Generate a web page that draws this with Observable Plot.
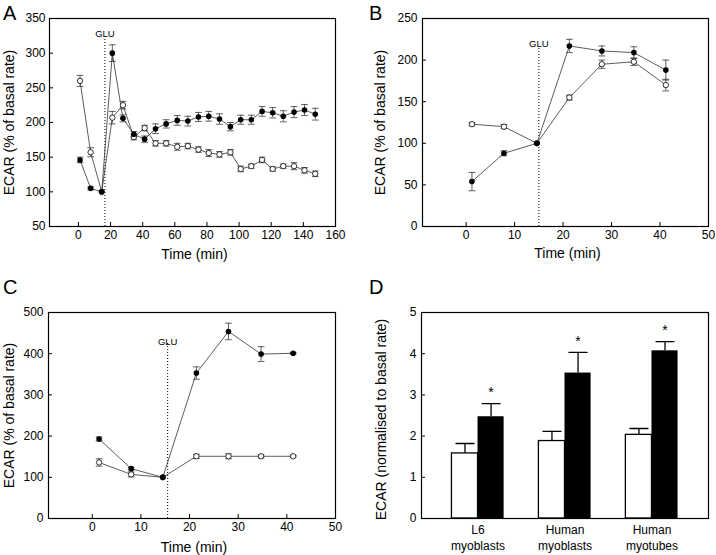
<!DOCTYPE html>
<html><head><meta charset="utf-8">
<script src="https://cdn.jsdelivr.net/npm/d3@7"></script>
<script src="https://cdn.jsdelivr.net/npm/@observablehq/plot@0.6"></script>
<style>
html,body{margin:0;padding:0;background:#fff;}
#root{position:relative;width:716px;height:555px;overflow:hidden;font-family:"Liberation Sans",Arial,Helvetica,sans-serif;background:#fff;}
.panel{position:absolute;}
#letters{position:absolute;left:0;top:0;pointer-events:none;}
</style></head><body><div id="root"></div>
<script>
// ---------- Panel A ----------
const timeA = [1.0, 7.6, 14.5, 21.1, 27.7, 34.5, 41.2, 48.0, 54.6, 61.5, 68.1, 74.7, 81.1, 87.8, 94.6, 101.0, 107.6, 114.3, 120.9, 127.5, 134.2, 140.7, 147.4];
const filledA = [146, 105, 100, 300, 206, 183, 176, 191, 198, 203, 202, 208, 209, 205, 194, 204, 204, 216, 214, 209, 215, 218, 212];
const filledAErr = [4, 2, 0, 12, 5, 4, 4.5, 7, 6, 7, 7, 6.5, 7, 7.5, 6, 6.5, 6.5, 7, 7.5, 8, 8, 8, 8.5];
const openA = [260, 157, 100, 207, 225, 179, 192, 170, 170, 165, 166, 161, 156, 154, 157, 133, 137, 146, 133, 137, 137, 131, 126];
const openAErr = [8, 6.5, 0, 9, 5.5, 4, 4, 4, 4, 5, 4, 4, 5, 4, 4, 4, 3, 4, 3, 3, 5, 4, 4];
const gluA = 16.5;
const xTicksA = [0, 20, 40, 60, 80, 100, 120, 140, 160];
const yTicksA = [50, 100, 150, 200, 250, 300, 350];

// ---------- Panel B ----------
const timeB = [1.2, 7.8, 14.6, 21.3, 28.0, 34.6, 41.2];
const filledB = [54, 88, 100, 217, 211, 209, 188];
const filledBErr = [11, 3, 0, 8, 6, 7, 12];
const openB = [123, 120, 100, 155, 195, 198, 170];
const openBErr = [2, 2.5, 0, 3, 5, 4.5, 7];
const gluB = 15;
const xTicksB = [0, 10, 20, 30, 40, 50];
const yTicksB = [0, 50, 100, 150, 200, 250];

// ---------- Panel C ----------
const timeC = [1.4, 8.0, 14.5, 21.4, 28.0, 34.7, 41.3];
const filledC = [193, 121, 100, 353, 454, 399, 401];
const filledCErr = [5, 3, 0, 15, 20, 18, 2];
const openC = [136, 107, 100, 151, 151, 151, 151];
const openCErr = [9, 6, 0, 5, 6, 4, 2];
const gluC = 15.5;
const xTicksC = [0, 10, 20, 30, 40, 50];
const yTicksC = [0, 100, 200, 300, 400, 500];

// ---------- Panel D ----------
const groupsD = ["L6 myoblasts", "Human myoblasts", "Human myotubes"];
const openD = [1.58, 1.88, 2.03];
const openDErr = [0.24, 0.235, 0.155];
const filledD = [2.47, 3.53, 4.07];
const filledDErr = [0.32, 0.50, 0.225];
const significanceD = ["*", "*", "*"];
const yTicksD = [0, 1, 2, 3, 4, 5];

const FONT = '"Liberation Sans", Arial, Helvetica, sans-serif';
const capShape = {draw(ctx, l) { ctx.moveTo(0, 0); ctx.lineTo(0, -l); }};

function rows(t, v, e) { return t.map((x, i) => ({t: x, v: v[i], e: e[i]})); }

function errMarks(data) {
  const d = data.filter(r => r.e > 0);
  const st = {stroke: "#3a3a3a", strokeWidth: 0.8};
  return [
    Plot.ruleX(d, {x: "t", y1: r => r.v - r.e, y2: r => r.v + r.e, ...st}),
    Plot.vector(d, {x: "t", y: r => r.v + r.e, length: 6, rotate: 90, anchor: "middle", shape: capShape, ...st}),
    Plot.vector(d, {x: "t", y: r => r.v - r.e, length: 6, rotate: 90, anchor: "middle", shape: capShape, ...st})
  ];
}

function axesMarks(xt, yt, yPad) {
  return [
    Plot.axisX({ticks: xt, tickSize: 0, tickPadding: 4, label: null, fontSize: 12, tickFormat: d => String(d)}),
    Plot.axisX({ticks: xt, tickSize: 4, dy: -4, fill: "none", label: null, stroke: "#000"}),
    Plot.axisY({ticks: yt, tickSize: 0, tickPadding: yPad, label: null, fontSize: 12, tickFormat: d => String(d)}),
    Plot.axisY({ticks: yt, tickSize: 4, dx: 4, fill: "none", label: null, stroke: "#000"})
  ];
}

function linePanel(c) {
  const f = rows(c.time, c.filled, c.filledErr);
  const o = rows(c.time, c.open, c.openErr);
  return Plot.plot({
    width: 358, height: c.height,
    marginLeft: c.ml, marginRight: c.mr, marginTop: c.mt, marginBottom: c.mb,
    style: {fontFamily: FONT, fontSize: "12px", background: "#fff", color: "#000"},
    x: {domain: c.xdom, label: null},
    y: {domain: c.ydom, label: null},
    marks: [
      Plot.ruleX([c.glu], {x: d => d, insetTop: c.gluInset, stroke: "#000", strokeWidth: 1, strokeDasharray: "1,2"}),
      Plot.text([c.glu], {x: d => d, frameAnchor: "top", dy: c.gluDy, text: () => "GLU", fontSize: 9.5, textAnchor: "middle"}),
      Plot.line(o, {x: "t", y: "v", stroke: "#333", strokeWidth: 0.8}),
      Plot.line(f, {x: "t", y: "v", stroke: "#333", strokeWidth: 0.8}),
      ...errMarks(o),
      ...errMarks(f),
      Plot.dot(o, {x: "t", y: "v", r: 2.7, fill: "#fff", stroke: "#000", strokeWidth: 0.8}),
      Plot.dot(f, {x: "t", y: "v", r: 2.8, fill: "#000"}),
      ...axesMarks(c.xticks, c.yticks, c.yPad),
      Plot.frame({stroke: "#000", strokeWidth: 1.2}),
      Plot.text(["ECAR (% of basal rate)"], {frameAnchor: "left", rotate: -90, dx: c.ylabDx, text: d => d, fontSize: 14, textAnchor: "middle", lineAnchor: "middle"}),
      Plot.text(["Time (min)"], {frameAnchor: "bottom", dy: c.xlabDy, dx: 2, text: d => d, fontSize: 14, textAnchor: "middle", lineAnchor: "middle"})
    ]
  });
}

function barPanel() {
  const ml = 63, mr = 8, W = 358;
  const pi = 0.4, po = 0.35;
  const step = (W - ml - mr) / (3 - pi + 2 * po);
  const half = step * (1 - pi) / 2;
  const data = groupsD.map((g, i) => ({g, o: openD[i], oe: openDErr[i], f: filledD[i], fe: filledDErr[i], s: significanceD[i]}));
  const st = {stroke: "#000", strokeWidth: 1.3};
  return Plot.plot({
    width: W, height: 280, marginLeft: ml, marginRight: mr, marginTop: 37, marginBottom: 37,
    style: {fontFamily: FONT, fontSize: "12px", background: "#fff", color: "#000"},
    x: {type: "band", domain: groupsD, paddingInner: pi, paddingOuter: po, round: false, label: null},
    y: {domain: [0, 5], label: null},
    marks: [
      Plot.ruleX(data, {x: "g", y1: "o", y2: d => d.o + d.oe, dx: -half / 2, ...st}),
      Plot.vector(data, {x: "g", y: d => d.o + d.oe, dx: -half / 2, length: 18, rotate: 90, anchor: "middle", shape: capShape, ...st}),
      Plot.ruleX(data, {x: "g", y1: "f", y2: d => d.f + d.fe, dx: half / 2, ...st}),
      Plot.vector(data, {x: "g", y: d => d.f + d.fe, dx: half / 2, length: 18, rotate: 90, anchor: "middle", shape: capShape, ...st}),
      Plot.barY(data, {x: "g", y: "o", fill: "#fff", stroke: "#000", strokeWidth: 1.3, insetRight: half}),
      Plot.barY(data, {x: "g", y: "f", fill: "#000", insetLeft: half}),
      Plot.text(data, {x: "g", y: d => d.f + d.fe, dx: half / 2, dy: -11, text: "s", fontSize: 14}),
      Plot.axisX({tickSize: 0, tickPadding: 4, label: null, fontSize: 12, lineHeight: 1.33, tickFormat: d => d.replace(" ", "\n")}),
      Plot.axisY({ticks: yTicksD, tickSize: 0, tickPadding: 5, label: null, fontSize: 12, tickFormat: d => String(d)}),
      Plot.axisY({ticks: yTicksD, tickSize: 4, dx: 4, fill: "none", label: null, stroke: "#000"}),
      Plot.frame({stroke: "#000", strokeWidth: 1.2}),
      Plot.text(["ECAR (normalised to basal rate)"], {frameAnchor: "left", rotate: -90, dx: -39.5, dy: 4, text: d => d, fontSize: 14, textAnchor: "middle", lineAnchor: "middle"})
    ]
  });
}

const root = document.getElementById("root");
function place(el, left, top) {
  const div = document.createElement("div");
  div.className = "panel";
  div.style.left = left + "px";
  div.style.top = top + "px";
  div.appendChild(el);
  root.appendChild(div);
}

place(linePanel({
  time: timeA, filled: filledA, filledErr: filledAErr, open: openA, openErr: openAErr,
  glu: gluA, gluInset: 18, gluDy: 12,
  xdom: [-18, 160], ydom: [50, 350], xticks: xTicksA, yticks: yTicksA, yPad: 4,
  height: 275, ml: 49, mr: 23, mt: 18, mb: 49, ylabDx: -39.7, xlabDy: 28
}), 0, 0);

place(linePanel({
  time: timeB, filled: filledB, filledErr: filledBErr, open: openB, openErr: openBErr,
  glu: gluB, gluInset: 30, gluDy: 22,
  xdom: [-9, 50], ydom: [0, 250], xticks: xTicksB, yticks: yTicksB, yPad: 5,
  height: 275, ml: 64, mr: 8, mt: 18, mb: 49, ylabDx: -42, xlabDy: 27
}), 358, 0);

place(linePanel({
  time: timeC, filled: filledC, filledErr: filledCErr, open: openC, openErr: openCErr,
  glu: gluC, gluInset: 31, gluDy: 26,
  xdom: [-9, 50], ydom: [0, 500], xticks: xTicksC, yticks: yTicksC, yPad: 5,
  height: 280, ml: 48, mr: 23, mt: 37, mb: 37, ylabDx: -38.5, xlabDy: 29
}), 0, 275);

place(barPanel(), 358, 275);

// panel letters
const ns = "http://www.w3.org/2000/svg";
const svg = document.createElementNS(ns, "svg");
svg.setAttribute("id", "letters");
svg.setAttribute("width", 716);
svg.setAttribute("height", 555);
[["A", 3, 20], ["B", 369, 20], ["C", 3, 294], ["D", 369, 294]].forEach(([t, x, y]) => {
  const el = document.createElementNS(ns, "text");
  el.setAttribute("x", x); el.setAttribute("y", y);
  el.setAttribute("font-size", 20);
  el.setAttribute("font-family", FONT);
  el.setAttribute("fill", "#000");
  el.textContent = t;
  svg.appendChild(el);
});
root.appendChild(svg);
</script>
</body></html>
